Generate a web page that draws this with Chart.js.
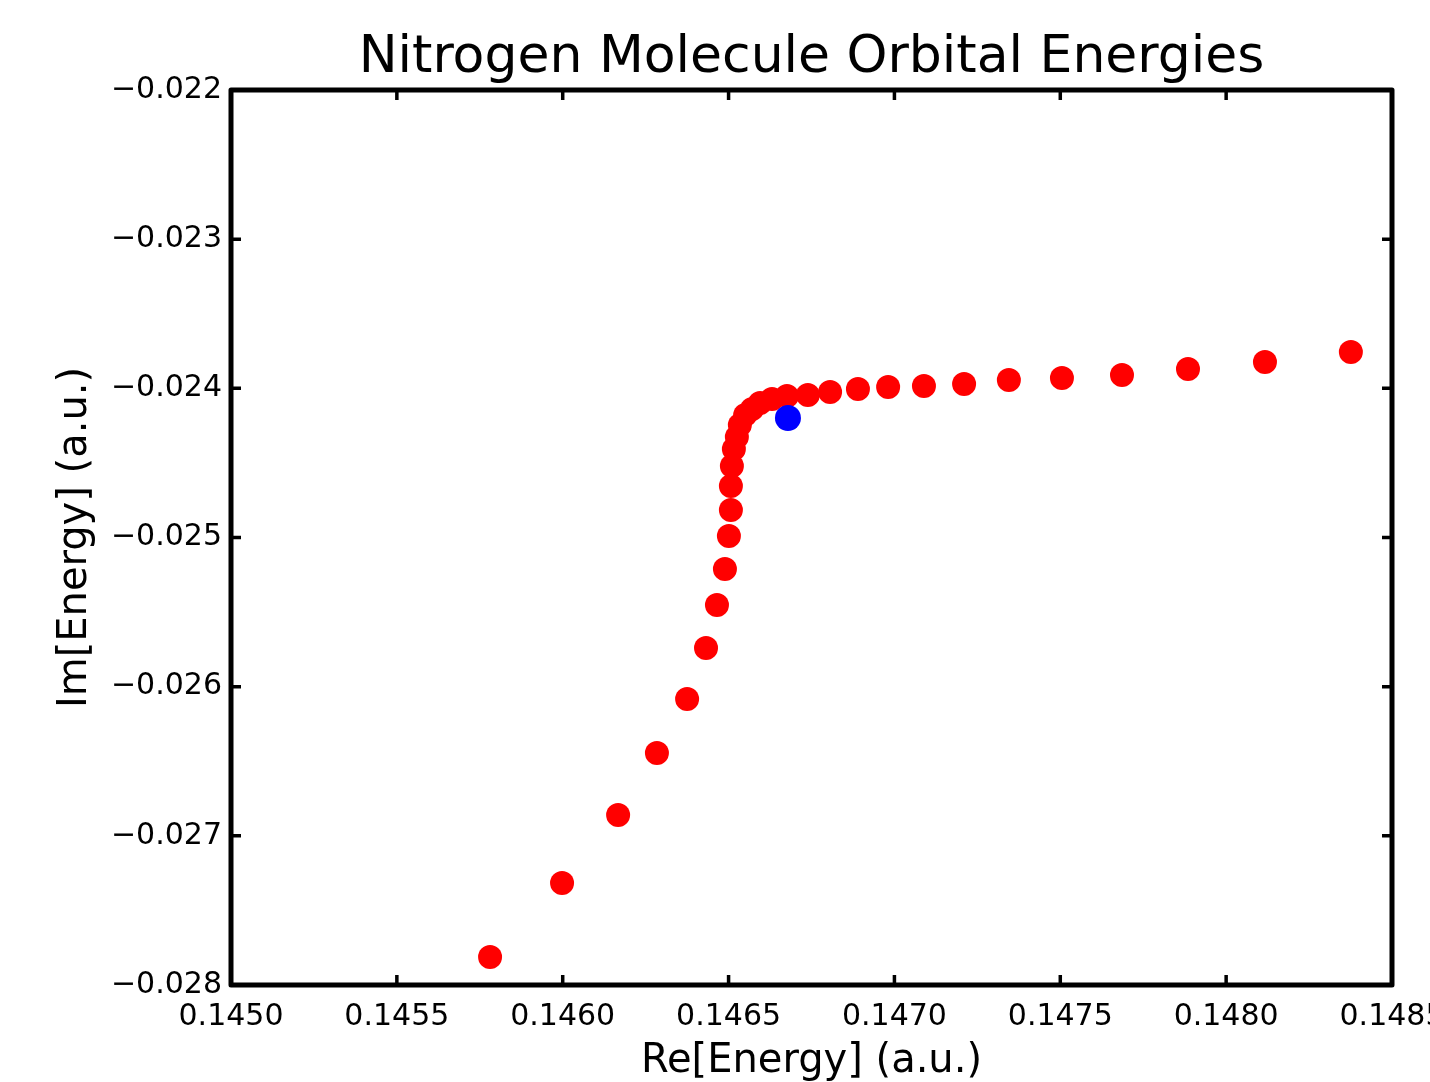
<!DOCTYPE html>
<html>
<head>
<meta charset="utf-8">
<script src="https://cdn.jsdelivr.net/npm/chart.js@4/dist/chart.umd.min.js"></script>
<style>
  body { margin: 0; background: #fff; }
  #wrap { width: 1430px; height: 1082px; }
</style>
</head>
<body>
<div id="wrap"><canvas id="orbitalChart" width="1430" height="1082"></canvas></div>
<script>
// Orbital energies (a.u.)
const reEnergy = [0.145781, 0.145998, 0.146167, 0.146284, 0.146375, 0.146432, 0.146465, 0.146489,
  0.146501, 0.146507, 0.146507, 0.146510, 0.146516, 0.146525, 0.146534, 0.146550,
  0.146571, 0.146595, 0.146631, 0.146676, 0.146739, 0.146806, 0.146890, 0.146981,
  0.147089, 0.147210, 0.147345, 0.147505, 0.147686, 0.147885, 0.148117, 0.148376];
const imEnergy = [-0.027812, -0.027316, -0.026860, -0.026445, -0.026083, -0.025741, -0.025453, -0.025211,
  -0.024990, -0.024816, -0.024655, -0.024521, -0.024407, -0.024326, -0.024246, -0.024179,
  -0.024139, -0.024098, -0.024072, -0.024051, -0.024045, -0.024025, -0.024004, -0.023991,
  -0.023984, -0.023971, -0.023944, -0.023931, -0.023911, -0.023870, -0.023823, -0.023756];

const selectedRe = [0.146679];
const selectedIm = [-0.024199];

const xTicks = [0.1450, 0.1455, 0.1460, 0.1465, 0.1470, 0.1475, 0.1480, 0.1485];
const xTickLabels = ['0.1450', '0.1455', '0.1460', '0.1465', '0.1470', '0.1475', '0.1480', '0.1485'];
const yTicks = [-0.028, -0.027, -0.026, -0.025, -0.024, -0.023, -0.022];
const yTickLabels = ['\u22120.028', '\u22120.027', '\u22120.026', '\u22120.025', '\u22120.024', '\u22120.023', '\u22120.022'];

const FONT = 'DejaVu Sans';

// black frame with inward ticks on all four sides (matplotlib classic look)
const framePlugin = {
  id: 'frame',
  afterDraw(chart) {
    const { ctx, chartArea: a, scales } = chart;
    const len = 10;
    ctx.save();
    ctx.strokeStyle = '#000';
    ctx.lineWidth = 3.5;
    ctx.beginPath();
    xTicks.forEach(v => {
      const px = scales.x.getPixelForValue(v);
      ctx.moveTo(px, a.bottom); ctx.lineTo(px, a.bottom - len);
      ctx.moveTo(px, a.top); ctx.lineTo(px, a.top + len);
    });
    yTicks.forEach(v => {
      const py = scales.y.getPixelForValue(v);
      ctx.moveTo(a.left, py); ctx.lineTo(a.left + len, py);
      ctx.moveTo(a.right, py); ctx.lineTo(a.right - len, py);
    });
    ctx.stroke();
    ctx.lineWidth = 5;
    ctx.lineJoin = 'round';
    ctx.strokeRect(a.left, a.top, a.right - a.left, a.bottom - a.top);
    ctx.restore();
  }
};

const ctx = document.getElementById('orbitalChart').getContext('2d');

new Chart(ctx, {
  type: 'scatter',
  data: {
    datasets: [
      {
        label: 'selected',
        data: selectedRe.map((x, i) => ({ x: x, y: selectedIm[i] })),
        backgroundColor: '#0000ff',
        borderColor: '#0000ff',
        pointRadius: 13,
        borderWidth: 0,
        order: 0
      },
      {
        label: 'orbitals',
        data: reEnergy.map((x, i) => ({ x: x, y: imEnergy[i] })),
        backgroundColor: '#ff0000',
        borderColor: '#ff0000',
        pointRadius: 12,
        borderWidth: 0,
        order: 1
      }
    ]
  },
  options: {
    responsive: false,
    animation: false,
    layout: { padding: { top: 0, right: 38, bottom: 0, left: 0 } },
    plugins: {
      legend: { display: false },
      tooltip: { enabled: false },
      title: {
        display: true,
        text: 'Nitrogen Molecule Orbital Energies',
        fullSize: false,
        color: '#000',
        font: { family: FONT, size: 52, weight: 'normal', lineHeight: 1.2 },
        padding: { top: 27, bottom: 0.6 }
      }
    },
    scales: {
      x: {
        type: 'linear',
        min: 0.1450,
        max: 0.1485,
        afterBuildTicks: s => { s.ticks = xTicks.map(v => ({ value: v })); },
        afterFit: s => { s.height = 97; s.paddingLeft = 0; s.paddingRight = 0; },
        grid: { display: false },
        border: { display: false },
        ticks: {
          autoSkip: false,
          maxRotation: 0,
          padding: 6,
          color: '#000',
          font: { family: FONT, size: 30 },
          callback: (v, i) => xTickLabels[i]
        },
        title: {
          display: true,
          text: 'Re[Energy] (a.u.)',
          color: '#000',
          font: { family: FONT, size: 40, lineHeight: 1.0 },
          padding: { top: 0, bottom: 0 }
        }
      },
      y: {
        type: 'linear',
        min: -0.028,
        max: -0.022,
        afterBuildTicks: s => { s.ticks = yTicks.map(v => ({ value: v })); },
        afterFit: s => { s.width = 231; s.paddingTop = 0; s.paddingBottom = 0; },
        grid: { display: false },
        border: { display: false },
        ticks: {
          autoSkip: false,
          padding: 1,
          color: '#000',
          font: { family: FONT, size: 30 },
          callback: (v, i) => yTickLabels[i]
        },
        title: {
          display: true,
          text: 'Im[Energy] (a.u.)',
          color: '#000',
          font: { family: FONT, size: 40, lineHeight: 1.0 },
          padding: { top: 56, bottom: 0 }
        }
      }
    }
  },
  plugins: [framePlugin]
});
</script>
</body>
</html>
